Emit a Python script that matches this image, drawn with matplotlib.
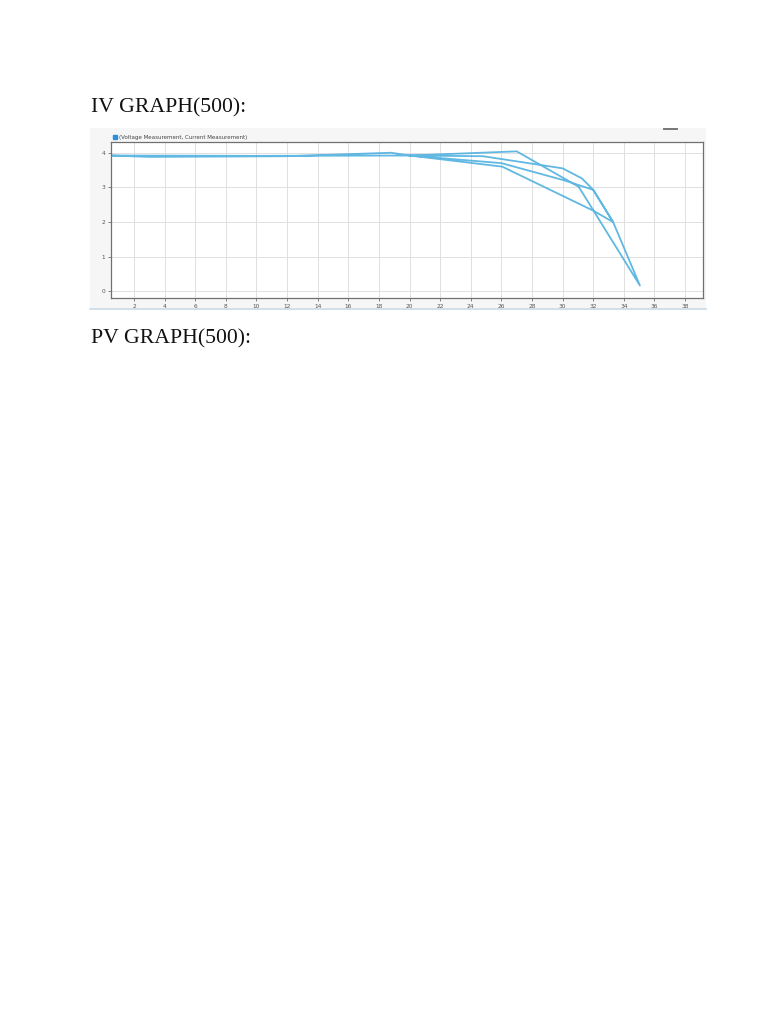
import matplotlib
matplotlib.use('Agg')
import matplotlib.pyplot as plt

# IV sweep trace (voltage, current), as one continuous path
volts = [0.5, 3.0, 12.0, 18.8, 20.0, 27.0, 31.05, 35.05, 33.3, 32.0, 30.06, 26.0, 20.0,
         24.8, 30.0, 31.26, 32.0, 33.3, 32.0, 26.05, 20.0, 10.0, 0.5]
amps = [3.92, 3.88, 3.90, 4.00, 3.92, 4.04, 3.02, 0.17, 2.00, 2.93, 3.21, 3.70, 3.92,
        3.90, 3.55, 3.26, 2.93, 2.00, 2.33, 3.60, 3.92, 3.91, 3.92]

xticks = list(range(2, 40, 2))
yticks = [0, 1, 2, 3, 4]
legend_label = '(Voltage Measurement, Current Measurement)'

W, H = 768, 1024
fig = plt.figure(figsize=(W / 100, H / 100), dpi=100)
fig.patch.set_facecolor('white')


def box(x0, y0, x1, y1):
    # pixel box (top-left origin) -> figure fraction rect
    return [x0 / W, 1 - y1 / H, (x1 - x0) / W, (y1 - y0) / H]


fig.text(91 / W, 1 - 112 / H, 'IV GRAPH(500):', family='Liberation Serif', fontsize=15.7, color='#111111')
fig.text(91 / W, 1 - 343 / H, 'PV GRAPH(500):', family='Liberation Serif', fontsize=15.7, color='#111111')

# screenshot backdrop
bg = fig.add_axes(box(90, 128, 706, 310))
bg.set_facecolor('#f6f6f6')
bg.set_xticks([])
bg.set_yticks([])
for s in bg.spines.values():
    s.set_visible(False)
bg.plot([0, 1], [0.004, 0.004], color='#c9dbe8', lw=1.2, transform=bg.transAxes, clip_on=False)
bg.plot([0.932, 0.953], [0.995, 0.995], color='#777777', lw=1.4, transform=bg.transAxes, clip_on=False)

ax = fig.add_axes(box(111, 142, 703, 298))
ax.set_facecolor('white')
ax.plot(volts, amps, color='#45acdd', lw=1.3, alpha=0.85)
ax.set_xlim(0.5, 39.17)
ax.set_ylim(-0.19, 4.31)
ax.set_xticks(xticks)
ax.set_yticks(yticks)
ax.tick_params(labelsize=4.2, colors='#555555', length=2, width=0.5, pad=2)
ax.grid(True, color='#e0e0e0', lw=0.7)
for s in ax.spines.values():
    s.set_color('#707070')
    s.set_linewidth(0.9)

# legend entry sits above the plot area, like the original tool
fig.patches.append(plt.Rectangle((112.5 / W, 1 - 138.5 / H), 4 / W, 4 / H,
                                 transform=fig.transFigure, color='#2b8fe0'))
fig.text(119 / W, 1 - 138.5 / H, legend_label, fontsize=4.0, color='#444444')

fig.savefig('out.png', dpi=100)
